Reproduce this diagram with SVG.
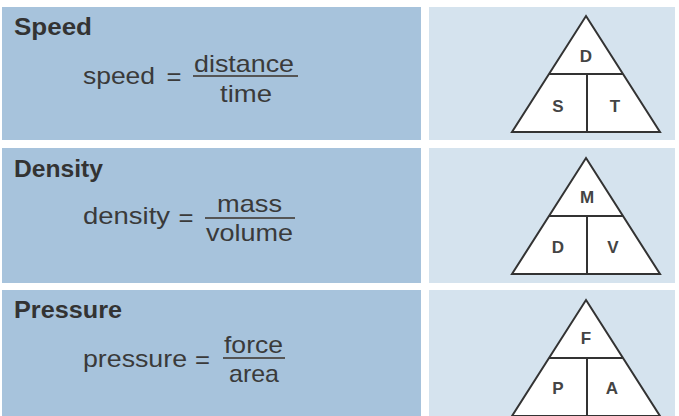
<svg xmlns="http://www.w3.org/2000/svg" width="679" height="416" viewBox="0 0 679 416">
<style>
.lp{fill:#a7c3dc}
.rp{fill:#d5e3ee}
.title{font-family:"Liberation Sans",Arial,sans-serif;font-weight:bold;font-size:23px;fill:#333}
.f{font-family:"Liberation Sans",Arial,sans-serif;font-size:24px;fill:#3a3a3a}
.fr{stroke:#555;stroke-width:2}
.tri{fill:#fff;stroke:#333;stroke-width:2;stroke-linejoin:miter}
.dl{stroke:#333;stroke-width:2}
.lt{font-family:"Liberation Sans",Arial,sans-serif;font-weight:bold;font-size:17px;fill:#444;text-anchor:middle}
</style>
<rect width="679" height="416" fill="#ffffff"/>

<g id="speed">
<rect class="lp" x="2" y="7" width="419" height="133"/>
<rect class="rp" x="429" y="7" width="246" height="133"/>
<text class="title" x="14" y="35" textLength="78" lengthAdjust="spacingAndGlyphs">Speed</text>
<text class="f" x="83" y="84" textLength="72" lengthAdjust="spacingAndGlyphs">speed</text>
<text class="f" x="174" y="85" text-anchor="middle" textLength="15" lengthAdjust="spacingAndGlyphs">=</text>
<text class="f" x="244" y="72" text-anchor="middle" textLength="100" lengthAdjust="spacingAndGlyphs">distance</text>
<line class="fr" x1="193" y1="76" x2="298" y2="76"/>
<text class="f" x="246" y="102" text-anchor="middle" textLength="52" lengthAdjust="spacingAndGlyphs">time</text>
<polygon class="tri" points="586,16 660,132 512,132"/>
<line class="dl" x1="549" y1="74" x2="623" y2="74"/>
<line class="dl" x1="587" y1="74" x2="587" y2="132"/>
<text class="lt" x="586" y="62">D</text>
<text class="lt" x="558" y="112">S</text>
<text class="lt" x="615" y="112">T</text>
</g>

<g id="density">
<rect class="lp" x="2" y="148" width="419" height="135"/>
<rect class="rp" x="429" y="148" width="246" height="135"/>
<text class="title" x="14" y="177" textLength="89" lengthAdjust="spacingAndGlyphs">Density</text>
<text class="f" x="83" y="224" textLength="87" lengthAdjust="spacingAndGlyphs">density</text>
<text class="f" x="186" y="226" text-anchor="middle" textLength="15" lengthAdjust="spacingAndGlyphs">=</text>
<text class="f" x="249.5" y="212" text-anchor="middle" textLength="65" lengthAdjust="spacingAndGlyphs">mass</text>
<line class="fr" x1="205" y1="218" x2="295" y2="218"/>
<text class="f" x="249.5" y="241" text-anchor="middle" textLength="87" lengthAdjust="spacingAndGlyphs">volume</text>
<polygon class="tri" points="586,158 660,274 512,274"/>
<line class="dl" x1="549" y1="216" x2="623" y2="216"/>
<line class="dl" x1="587" y1="216" x2="587" y2="274"/>
<text class="lt" x="587" y="203">M</text>
<text class="lt" x="558" y="253">D</text>
<text class="lt" x="613" y="253">V</text>
</g>

<g id="pressure">
<rect class="lp" x="2" y="290" width="419" height="126"/>
<rect class="rp" x="429" y="290" width="246" height="126"/>
<text class="title" x="14" y="318" textLength="108" lengthAdjust="spacingAndGlyphs">Pressure</text>
<text class="f" x="83" y="367" textLength="104" lengthAdjust="spacingAndGlyphs">pressure</text>
<text class="f" x="202.5" y="368" text-anchor="middle" textLength="15" lengthAdjust="spacingAndGlyphs">=</text>
<text class="f" x="253.5" y="353" text-anchor="middle" textLength="59" lengthAdjust="spacingAndGlyphs">force</text>
<line class="fr" x1="223" y1="358" x2="285" y2="358"/>
<text class="f" x="254" y="382" text-anchor="middle" textLength="50" lengthAdjust="spacingAndGlyphs">area</text>
<polygon class="tri" points="586,300 660,416 512,416"/>
<line class="dl" x1="549" y1="358" x2="623" y2="358"/>
<line class="dl" x1="587" y1="358" x2="587" y2="416"/>
<text class="lt" x="586" y="344">F</text>
<text class="lt" x="558" y="394">P</text>
<text class="lt" x="612" y="394">A</text>
</g>
</svg>
